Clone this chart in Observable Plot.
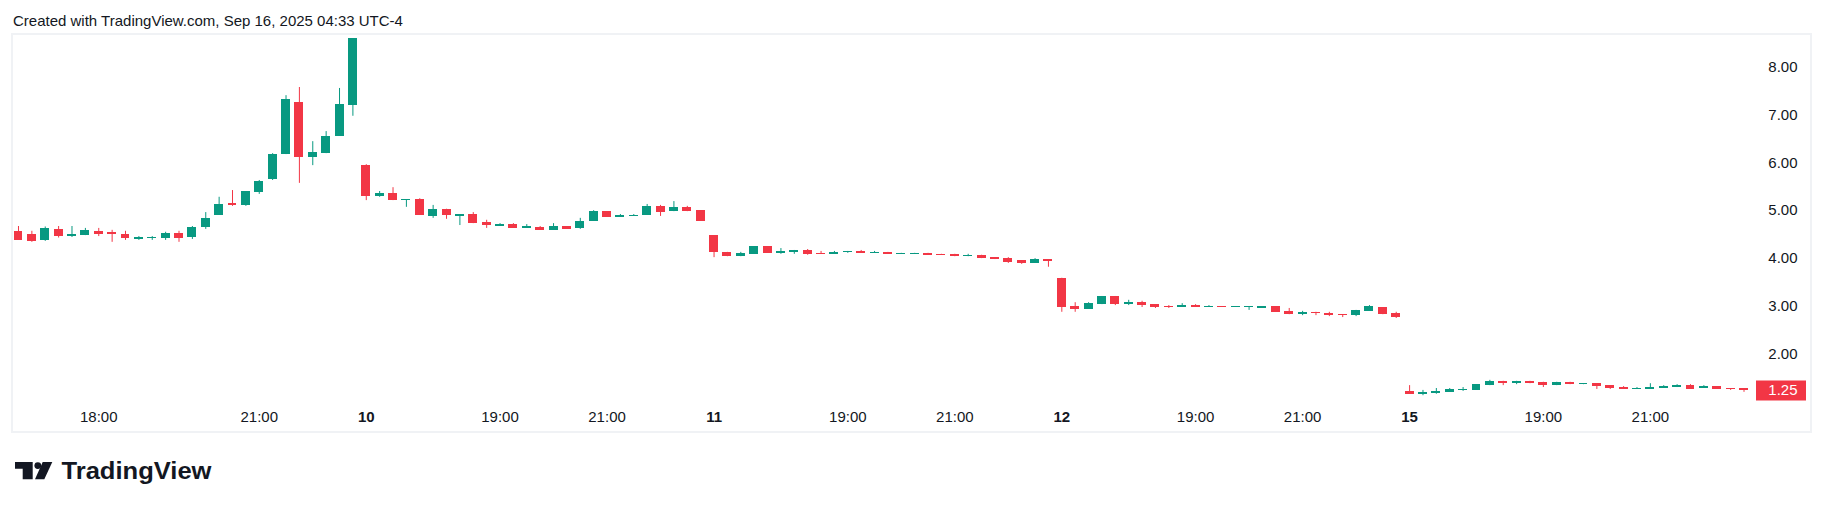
<!DOCTYPE html>
<html>
<head>
<meta charset="utf-8">
<script src="https://cdn.jsdelivr.net/npm/d3@7"></script>
<script src="https://cdn.jsdelivr.net/npm/@observablehq/plot@0.6"></script>
<style>
  html, body { margin: 0; padding: 0; background: #ffffff; }
  body { width: 1826px; height: 509px; overflow: hidden; position: relative; font-family: "Liberation Sans", Arial, sans-serif; }
  #frame { position: absolute; left: 11px; top: 33px; width: 1797px; height: 396px; border: 2px solid #f0f2f5; }
  #chart { position: absolute; left: 0; top: 0; }
  #header { position: absolute; left: 13px; top: 12px; font-size: 15px; color: #131722; white-space: nowrap; }
  #logo { position: absolute; left: 0; top: 452px; }
</style>
</head>
<body>
<div id="frame"></div>
<div id="chart"></div>
<div id="header">Created with TradingView.com, Sep 16, 2025 04:33 UTC-4</div>
<svg id="logo" width="230" height="50" viewBox="0 0 230 50">
  <path d="M15,10 H32.7 V27.3 H22.7 V16.7 H15 Z" fill="#131722"/>
  <circle cx="37.8" cy="13.6" r="3.4" fill="#131722"/>
  <path d="M42.7,10 H52.3 L44.3,27.3 H35 Z" fill="#131722"/>
  <text x="61.5" y="27.3" font-family="Liberation Sans, Arial, sans-serif" font-weight="bold" font-size="24" textLength="150" lengthAdjust="spacingAndGlyphs" fill="#131722">TradingView</text>
</svg>
<script>
// 15-minute candles, five sessions of 26 bars (16:30 – 22:45)
const open = [
  4.57,4.50,4.38,4.61,4.46,4.48,4.57,4.55,4.50,4.40,4.42,4.42,4.52,4.44,4.65,4.90,5.15,5.11,5.38,5.65,6.17,7.26,6.10,6.19,6.55,7.20,
  5.94,5.30,5.36,5.21,5.23,4.88,5.03,4.88,4.92,4.75,4.67,4.71,4.63,4.65,4.59,4.67,4.63,4.78,4.98,4.86,4.88,4.90,5.09,4.98,5.07,5.00,
  4.48,4.13,4.04,4.09,4.25,4.11,4.13,4.17,4.11,4.09,4.13,4.15,4.11,4.13,4.09,4.09,4.11,4.09,4.09,4.04,4.07,4.02,4.00,3.96,3.90,3.98,
  3.59,3.00,2.94,3.04,3.21,3.04,3.08,3.04,3.00,2.98,3.02,2.98,3.00,2.98,2.98,2.96,3.00,2.90,2.83,2.88,2.86,2.83,2.81,2.90,2.98,2.86,
  1.23,1.17,1.19,1.21,1.25,1.25,1.35,1.44,1.39,1.44,1.42,1.35,1.42,1.37,1.39,1.35,1.31,1.27,1.27,1.29,1.31,1.35,1.29,1.33,1.29,1.29
];
const high = [
  4.67,4.57,4.66,4.67,4.67,4.63,4.63,4.59,4.57,4.46,4.46,4.55,4.57,4.67,4.96,5.28,5.42,5.40,5.63,6.19,7.40,7.57,6.44,6.65,7.55,8.59,
  5.96,5.40,5.48,5.23,5.25,5.11,5.03,4.92,4.96,4.80,4.73,4.73,4.71,4.67,4.73,4.67,4.84,5.00,4.98,4.92,4.92,5.13,5.11,5.19,5.09,5.00,
  4.48,4.13,4.13,4.25,4.25,4.21,4.17,4.19,4.15,4.15,4.15,4.17,4.15,4.13,4.11,4.11,4.11,4.09,4.09,4.09,4.07,4.02,4.02,3.96,4.00,3.98,
  3.59,3.08,3.08,3.21,3.21,3.13,3.11,3.04,3.02,3.06,3.04,3.02,3.00,3.00,3.00,3.00,3.00,2.96,2.90,2.88,2.88,2.83,2.92,3.02,2.98,2.88,
  1.35,1.25,1.29,1.29,1.31,1.37,1.46,1.44,1.44,1.44,1.42,1.42,1.42,1.39,1.39,1.35,1.33,1.31,1.39,1.35,1.37,1.37,1.35,1.33,1.29,1.29
];
const low = [
  4.38,4.34,4.36,4.43,4.44,4.48,4.46,4.34,4.38,4.38,4.38,4.38,4.34,4.40,4.61,4.90,5.09,5.09,5.34,5.63,6.17,5.57,5.94,6.19,6.55,6.97,
  5.21,5.28,5.21,5.07,4.90,4.84,4.82,4.69,4.73,4.63,4.67,4.63,4.63,4.59,4.59,4.61,4.61,4.78,4.86,4.86,4.88,4.90,4.88,4.98,4.98,4.78,
  4.02,4.04,4.04,4.09,4.11,4.09,4.09,4.07,4.09,4.09,4.11,4.11,4.11,4.09,4.09,4.09,4.07,4.07,4.04,4.04,4.00,3.98,3.90,3.88,3.90,3.82,
  2.88,2.88,2.94,3.04,3.02,3.02,2.98,2.96,2.96,2.98,2.98,2.98,2.98,2.98,2.92,2.96,2.88,2.83,2.81,2.81,2.79,2.77,2.79,2.90,2.83,2.75,
  1.17,1.14,1.17,1.21,1.23,1.25,1.35,1.35,1.37,1.39,1.31,1.35,1.37,1.37,1.27,1.27,1.27,1.27,1.27,1.29,1.31,1.27,1.29,1.27,1.25,1.21
];
const close = [
  4.38,4.36,4.63,4.46,4.50,4.59,4.50,4.50,4.42,4.44,4.44,4.52,4.42,4.65,4.84,5.13,5.11,5.40,5.61,6.17,7.32,6.10,6.21,6.55,7.22,8.59,
  5.30,5.36,5.21,5.23,4.90,5.03,4.90,4.92,4.73,4.69,4.71,4.63,4.67,4.59,4.67,4.61,4.78,4.98,4.86,4.90,4.90,5.09,4.96,5.07,4.98,4.78,
  4.13,4.04,4.11,4.25,4.11,4.15,4.17,4.09,4.09,4.13,4.15,4.11,4.13,4.09,4.11,4.11,4.07,4.07,4.04,4.07,4.00,3.98,3.92,3.90,3.98,3.94,
  2.98,2.94,3.06,3.21,3.04,3.08,3.02,2.98,2.98,3.02,2.98,3.00,2.98,3.00,3.00,3.00,2.88,2.83,2.88,2.86,2.81,2.81,2.92,3.00,2.83,2.77,
  1.17,1.21,1.23,1.27,1.27,1.37,1.44,1.39,1.44,1.39,1.35,1.42,1.37,1.39,1.33,1.29,1.27,1.29,1.31,1.33,1.35,1.27,1.33,1.27,1.27,1.25
];

// x-axis tick labels (bar index within the visible range)
const timeTickIndex = [6, 18, 36, 44, 62, 70, 88, 96, 114, 122];
const timeTickLabel = ["18:00", "21:00", "19:00", "21:00", "19:00", "21:00", "19:00", "21:00", "19:00", "21:00"];
const dayTickIndex = [26, 52, 78, 104];
const dayTickLabel = ["10", "11", "12", "15"];
// y-axis ticks
const priceTicks = [2, 3, 4, 5, 6, 7, 8];

const UP = "#089981", DOWN = "#f23645";

const bars = open.map((o, i) => ({i, open: o, high: high[i], low: low[i], close: close[i], dir: close[i] >= o ? "up" : "down"}));
const last = bars[bars.length - 1];

const chart = Plot.plot({
  width: 1826,
  height: 509,
  marginLeft: 0,
  marginRight: 20,
  marginTop: 0,
  marginBottom: 104,
  style: {background: "transparent", fontFamily: "'Liberation Sans', Arial, sans-serif", fontSize: "15px", color: "#131722", overflow: "visible"},
  x: {type: "band", domain: d3.range(bars.length), range: [9.1, 1752.4], padding: 0.33, axis: null, label: null},
  y: {domain: [1, 8], range: [401.9, 66.4], axis: null, label: null},
  color: {domain: ["up", "down"], range: [UP, DOWN]},
  marks: [
    Plot.ruleX(bars, {x: "i", y1: "low", y2: "high", stroke: "dir", strokeWidth: 1}),
    Plot.barY(bars, {x: "i", y1: "open", y2: "close", fill: "dir", shapeRendering: "crispEdges"}),
    Plot.axisY(priceTicks, {anchor: "right", label: null, tickSize: 0, tickPadding: 0, dx: -9, textAnchor: "end", tickFormat: d => d.toFixed(2), fontSize: 15, fill: "#131722"}),
    Plot.axisX(timeTickIndex, {anchor: "bottom", label: null, tickSize: 0, tickPadding: 6, tickFormat: d => timeTickLabel[timeTickIndex.indexOf(d)], fontSize: 15, fill: "#131722"}),
    Plot.axisX(dayTickIndex, {anchor: "bottom", label: null, tickSize: 0, tickPadding: 6, tickFormat: d => dayTickLabel[dayTickIndex.indexOf(d)], fontSize: 15, fontWeight: "bold", fill: "#131722"}),
    Plot.ruleY([last], {y: "close", stroke: DOWN, strokeWidth: 20, insetLeft: 1756}),
    Plot.text([last], {y: "close", text: d => d.close.toFixed(2), frameAnchor: "right", textAnchor: "end", dx: -9, fill: "#ffffff", fontSize: 15})
  ]
});
document.getElementById("chart").appendChild(chart);
</script>
</body>
</html>
